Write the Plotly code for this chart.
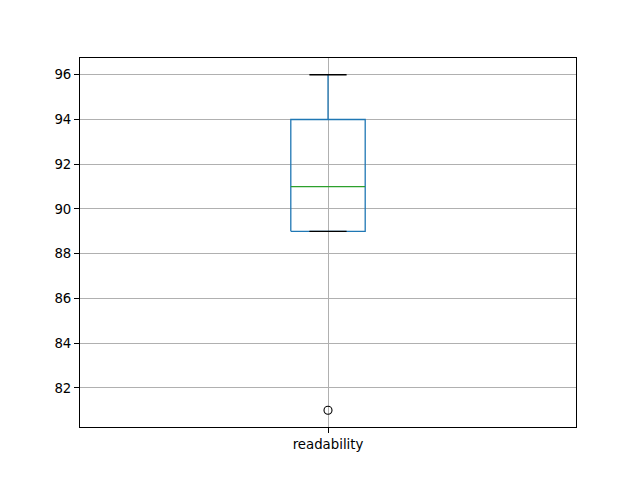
import plotly.graph_objects as go

categories = ["readability"]
q1 = [89]
median = [91]
q3 = [94]
lower_whisker = [89]
upper_whisker = [96]
outliers = [[81]]
y_ticks = [82, 84, 86, 88, 90, 92, 94, 96]

BOX_HALF = 0.075
CAP_HALF = 0.0375
BLUE = "#1f77b4"
GREEN = "#2ca02c"

fig = go.Figure()
for i, cat in enumerate(categories):
    x0 = i + 1
    # box
    fig.add_trace(go.Scatter(
        x=[x0 - BOX_HALF, x0 + BOX_HALF, x0 + BOX_HALF, x0 - BOX_HALF, x0 - BOX_HALF],
        y=[q1[i], q1[i], q3[i], q3[i], q1[i]],
        mode="lines", line=dict(color=BLUE, width=1.3), hoverinfo="skip"))
    # whiskers
    fig.add_trace(go.Scatter(x=[x0, x0], y=[q3[i], upper_whisker[i]],
                             mode="lines", line=dict(color=BLUE, width=1.3), hoverinfo="skip"))
    fig.add_trace(go.Scatter(x=[x0, x0], y=[q1[i], lower_whisker[i]],
                             mode="lines", line=dict(color=BLUE, width=1.3), hoverinfo="skip"))
    # caps
    for w in (upper_whisker[i], lower_whisker[i]):
        fig.add_trace(go.Scatter(x=[x0 - CAP_HALF, x0 + CAP_HALF], y=[w, w],
                                 mode="lines", line=dict(color="black", width=1.3), hoverinfo="skip"))
    # median
    fig.add_trace(go.Scatter(x=[x0 - BOX_HALF, x0 + BOX_HALF], y=[median[i], median[i]],
                             mode="lines", line=dict(color=GREEN, width=1.3), hoverinfo="skip"))
    # outliers
    fig.add_trace(go.Scatter(x=[x0] * len(outliers[i]), y=outliers[i], mode="markers",
                             marker=dict(symbol="circle-open", size=8, color="black",
                                         line=dict(width=1.1, color="black")),
                             hoverinfo="skip"))

all_vals = q1 + q3 + lower_whisker + upper_whisker + [v for o in outliers for v in o]
lo, hi = min(all_vals), max(all_vals)
pad = (hi - lo) * 0.05

font = dict(family="DejaVu Sans", size=13.3, color="black")
fig.update_layout(
    width=640, height=480,
    margin=dict(l=72, r=72, t=50, b=61),
    paper_bgcolor="white", plot_bgcolor="white",
    showlegend=False,
    font=font,
    xaxis=dict(range=[0.5, len(categories) + 0.5], tickmode="array",
               tickvals=list(range(1, len(categories) + 1)), ticktext=categories,
               showgrid=True, gridcolor="#b0b0b0", gridwidth=0.8,
               showline=True, linecolor="black", linewidth=1, mirror=True,
               ticks="outside", ticklen=5, tickcolor="black", zeroline=False,
               layer="above traces", tickfont=font),
    yaxis=dict(range=[lo - pad, hi + pad], tickmode="array", tickvals=y_ticks,
               showgrid=True, gridcolor="#b0b0b0", gridwidth=0.8,
               showline=True, linecolor="black", linewidth=1, mirror=True,
               ticks="outside", ticklen=5, tickcolor="black", zeroline=False,
               layer="above traces", tickfont=font),
)

fig.write_html("out.html")
